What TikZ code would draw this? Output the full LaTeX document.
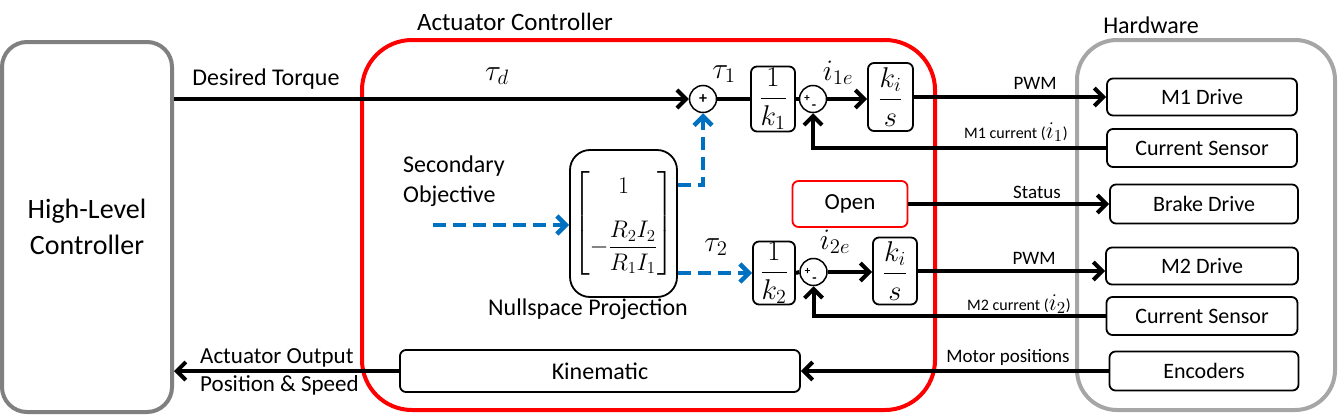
\documentclass[tikz,border=0pt]{standalone}
\usepackage{fix-cm}
\usepackage{amsmath}
\usepackage{graphicx}
\usepackage{fontspec}
\setmainfont{Carlito}
\usetikzlibrary{arrows.meta,calc}
\definecolor{myblue}{HTML}{0070C0}
\definecolor{hlgray}{HTML}{808080}
\definecolor{hwgray}{HTML}{A6A6A6}
\definecolor{myred}{HTML}{FF0000}
\newcommand{\mylabm}[1]{\scalebox{1.35}{$#1$}}
\newcommand{\myfracm}[1]{\scalebox{1.3}{$\displaystyle #1$}}
\begin{document}
\begin{tikzpicture}[x=1pt,y=-1pt,
  bigbox/.style={draw, line width=4pt, inner sep=0pt},
  blk/.style={draw, line width=1.8pt, rounded corners=6pt, inner sep=0pt, font=\fontsize{22}{26}\selectfont},
  fblk/.style={blk, font=\fontsize{22}{26}\selectfont},
  sumc/.style={draw, circle, line width=1.5pt, minimum size=27pt, inner sep=0pt},
  wire/.style={line width=4pt},
  sig/.style={line width=4pt, -{Straight Barb[length=9pt,width=18pt]}},
  bsig/.style={line width=4.5pt, myblue, dash pattern=on 13pt off 7pt, -{Straight Barb[length=9pt,width=18pt]}},
  lab/.style={font=\fontsize{24}{28}\selectfont, inner sep=0pt},
  slab/.style={font=\fontsize{19}{22}\selectfont, inner sep=0pt},
  tlab/.style={font=\fontsize{16}{19}\selectfont, inner sep=0pt},
  mlab/.style={font=\fontsize{22}{26}\selectfont, inner sep=0pt}
]
\useasboundingbox (0,0) rectangle (1338,415);

% big containers
\node[bigbox, draw=hlgray, rounded corners=25pt, minimum width=170pt, minimum height=370pt,
      font=\fontsize{28}{36}\selectfont, align=center] (hlc) at (87,227) {High-Level\\Controller};
\node[bigbox, draw=myred, rounded corners=50pt, minimum width=573pt, minimum height=370pt] (ac) at (648.5,225) {};
\node[bigbox, draw=hwgray, rounded corners=40pt, minimum width=258pt, minimum height=370pt] (hw) at (1206,225) {};
\node[lab, font=\fontsize{25}{29}\selectfont] (actitle) at (515,22) {Actuator Controller};
\node[lab] (hwtitle) at (1151,25) {Hardware};

% channel 1
\node[sumc] (sum1) at (703,99) {};
\node[font=\bfseries\fontsize{16}{16}\selectfont, inner sep=0pt] (p1) at (sum1) {+};
\node[fblk, minimum width=44pt, minimum height=65pt] (k1) at (773,99) {\myfracm{\frac{1}{k_1}}};
\node[sumc] (sum2) at (813,99) {};
\node[font=\bfseries\fontsize{11}{11}\selectfont, inner sep=0pt] (p2) at ([xshift=-6pt,yshift=1pt]sum2) {+};
\node[font=\bfseries\fontsize{14}{14}\selectfont, inner sep=0pt] (m2s) at ([xshift=1pt,yshift=-8pt]sum2) {-};
\node[fblk, minimum width=45pt, minimum height=68pt] (ki1) at (890.5,97) {\myfracm{\frac{k_i}{s}}};

% channel 2
\node[fblk, minimum width=42pt, minimum height=63pt] (k2) at (774,273) {\myfracm{\frac{1}{k_2}}};
\node[sumc] (sum3) at (813.5,272) {};
\node[font=\bfseries\fontsize{11}{11}\selectfont, inner sep=0pt] (p3) at ([xshift=-6pt,yshift=1pt]sum3) {+};
\node[font=\bfseries\fontsize{14}{14}\selectfont, inner sep=0pt] (m3s) at ([xshift=1pt,yshift=-8pt]sum3) {-};
\node[fblk, minimum width=44pt, minimum height=67pt] (ki2) at (895,271) {\myfracm{\frac{k_i}{s}}};

% nullspace matrix
\node[blk, rounded corners=20pt, minimum width=107pt, minimum height=147pt, font=\fontsize{20}{24}\selectfont] (mat) at (623.5,223.5)
  {\scalebox{1.2}{$\left[\begin{array}{@{}c@{}}1\\[16pt]-\dfrac{R_2I_2}{R_1I_1}\end{array}\right]$}};
\node[lab] (nslab) at (588,309) {Nullspace Projection};
\node[lab, align=left, anchor=west, font=\fontsize{24}{30}\selectfont] (seclab) at (403,181) {Secondary\\Objective};
\coordinate (secsrc) at (433,225);

% open box
\node[blk, draw=myred, minimum width=115pt, minimum height=46pt, font=\fontsize{23}{27}\selectfont] (open) at (850,204) {Open};

% kinematic
\node[blk, minimum width=400pt, minimum height=42pt, font=\fontsize{24}{28}\selectfont] (kin) at (600,371) {Kinematic};

% hardware boxes
\node[blk, minimum width=190pt, minimum height=37pt] (m1) at (1202,97) {M1 Drive};
\node[blk, minimum width=190pt, minimum height=38pt] (cs1) at (1202,148) {Current Sensor};
\node[blk, minimum width=188pt, minimum height=39pt] (brake) at (1204,204) {Brake Drive};
\node[blk, minimum width=192pt, minimum height=37pt] (m2) at (1202,266) {M2 Drive};
\node[blk, minimum width=191pt, minimum height=38pt] (cs2) at (1202,316) {Current Sensor};
\node[blk, minimum width=189pt, minimum height=39pt] (enc) at (1204,371) {Encoders};

% connectors channel 1
\draw[sig] (hlc.east |- sum1) -- (sum1.west);
\draw[wire] (sum1.east) -- (k1.west);
\draw[wire] (k1.east) -- (sum2.west);
\draw[sig] (sum2.east) -- (ki1.west |- sum2);
\draw[sig] (ki1.east) -- (ki1.east -| m1.west);
\draw[sig] (cs1.west) -| (sum2.south);

% connectors channel 2
\draw[wire] (k2.east) -- (sum3.west);
\draw[sig] (sum3.east) -- (ki2.west |- sum3);
\draw[sig] (ki2.east) -- (ki2.east -| m2.west);
\draw[sig] (cs2.west) -| (sum3.south);

% brake, kinematic
\draw[sig] (open.east) -- (open.east -| brake.west);
\draw[sig] (enc.west) -- (kin.east);
\draw[sig] (kin.west) -- (kin.west -| hlc.east);

% blue dashed
\draw[bsig] (secsrc) -- (secsrc -| mat.west);
\draw[bsig] ([yshift=38.5pt]mat.east) -| (sum1.south);
\draw[bsig] ([yshift=-49.5pt]mat.east) -- (k2.west);

% labels
\node[lab] (dtlab) at (266,79) {Desired Torque};
\node[mlab] (taud) at (497,76) {\mylabm{\tau_d}};
\node[mlab] (tau1) at (724,74) {\mylabm{\tau_1}};
\node[mlab] (i1e) at (838,73) {\mylabm{i_{1e}}};
\node[mlab] (tau2) at (716,247) {\mylabm{\tau_2}};
\node[mlab] (i2e) at (835,242) {\mylabm{i_{2e}}};
\node[slab] (pwm1) at (1035,83) {PWM};
\node[tlab] (m1cur) at (1016,132) {M1 current (\scalebox{1.5}{$i_1$})};
\node[slab] (stat) at (1037,192) {Status};
\node[slab] (pwm2) at (1034,258) {PWM};
\node[tlab] (m2cur) at (1019,304) {M2 current (\scalebox{1.5}{$i_2$})};
\node[slab] (motpos) at (1008,357) {Motor positions};
\node[lab, align=left, anchor=west, font=\fontsize{23}{28}\selectfont] (aolab) at (200,372) {Actuator Output\\Position \& Speed};
\end{tikzpicture}
\end{document}
